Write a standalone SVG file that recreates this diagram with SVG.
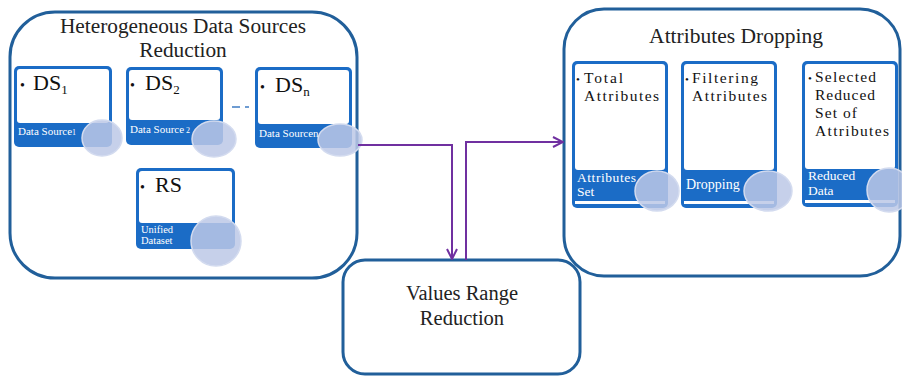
<svg xmlns="http://www.w3.org/2000/svg" width="902" height="376" viewBox="0 0 902 376">
<defs>
<style>
.big{fill:#fff;stroke:#215f9a;stroke-width:3}
.card{fill:#1b6cc6}
.inner{fill:#fff}
.circ{fill:#bcc8e6;fill-opacity:0.85;stroke:#d3dbef;stroke-width:1.5}
.title{font-family:"Liberation Serif","DejaVu Serif",serif;font-size:21.3px;fill:#222;text-anchor:middle}
.ds{font-family:"Liberation Serif","DejaVu Serif",serif;font-size:22px;fill:#111}
.sub{font-size:13px}
.item{font-family:"Liberation Serif","DejaVu Serif",serif;font-size:15.5px;fill:#111}
.band{font-family:"Liberation Serif","DejaVu Serif",serif;fill:#fff}
.conn{fill:none;stroke:#7030a0;stroke-width:2}
</style>
<marker id="arr" viewBox="0 0 12 12" refX="11" refY="6" markerWidth="12" markerHeight="12" markerUnits="userSpaceOnUse" orient="auto">
<path d="M1,1 L11,6 L1,11" fill="none" stroke="#7030a0" stroke-width="2"/>
</marker>
</defs>
<rect width="902" height="376" fill="#fff"/>

<g id="hetero">
<rect class="big" x="10" y="12" width="347" height="266" rx="45"/>
<text class="title" x="183" y="33">Heterogeneous Data Sources</text>
<text class="title" x="183" y="57">Reduction</text>
</g>

<g id="attrdrop">
<rect class="big" x="564" y="9" width="336" height="267" rx="40"/>
<text class="title" x="736" y="43" style="font-size:21.5px">Attributes Dropping</text>
</g>

<g id="values">
<rect class="big" x="343" y="260" width="237" height="114" rx="22"/>
<text class="title" x="462" y="300" style="font-size:20.5px">Values Range</text>
<text class="title" x="462" y="325" style="font-size:20.5px">Reduction</text>
</g>

<g id="ds1">
<rect class="card" x="14" y="66" width="98" height="81" rx="5"/>
<rect class="inner" x="17" y="69" width="92" height="54" rx="3"/>
<text class="ds" x="20" y="90"><tspan style="font-size:14px">•</tspan><tspan x="33">DS</tspan><tspan class="sub" dy="4">1</tspan></text>
<text class="band" x="18" y="135" style="font-size:11px">Data Source<tspan style="font-size:8px">1</tspan></text>
<ellipse class="circ" cx="102" cy="138" rx="20" ry="18"/>
</g>

<g id="ds2">
<rect class="card" x="126" y="67" width="97" height="78" rx="5"/>
<rect class="inner" x="129" y="70" width="91" height="50" rx="3"/>
<text class="ds" x="130" y="90"><tspan style="font-size:14px">•</tspan><tspan x="145">DS</tspan><tspan class="sub" dy="4">2</tspan></text>
<text class="band" x="130" y="133" style="font-size:11px">Data Source<tspan style="font-size:8px"> 2</tspan></text>
<ellipse class="circ" cx="214" cy="139" rx="22" ry="18"/>
</g>

<g id="dsn">
<rect class="card" x="255" y="67" width="97" height="81" rx="5"/>
<rect class="inner" x="258" y="70" width="91" height="54" rx="3"/>
<text class="ds" x="260" y="92"><tspan style="font-size:14px">•</tspan><tspan x="275">DS</tspan><tspan class="sub" dy="4">n</tspan></text>
<text class="band" x="259" y="137" style="font-size:11px">Data Sourcen</text>
<ellipse class="circ" cx="340" cy="140" rx="22" ry="16"/>
</g>

<g id="rs">
<rect class="card" x="136" y="168" width="99" height="81" rx="5"/>
<rect class="inner" x="139" y="171" width="93" height="52" rx="3"/>
<text class="ds" x="140" y="192"><tspan style="font-size:14px">•</tspan><tspan x="155">RS</tspan></text>
<text class="band" x="141" y="233" style="font-size:10.5px">Unified</text>
<text class="band" x="141" y="244" style="font-size:10.5px">Dataset</text>
<ellipse class="circ" cx="216" cy="241" rx="25" ry="25"/>
</g>

<g id="total">
<rect class="card" x="572" y="61" width="96" height="147" rx="5"/>
<rect class="inner" x="575" y="64" width="90" height="106" rx="3"/>
<rect class="inner" x="575" y="201" width="90" height="3"/>
<text class="item" x="576" y="83"><tspan style="font-size:11px">•</tspan><tspan x="584" textLength="39" lengthAdjust="spacing">Total</tspan></text>
<text class="item" x="584" y="101" textLength="75" lengthAdjust="spacing">Attributes</text>
<text class="band" x="577" y="182" style="font-size:13.5px" textLength="59" lengthAdjust="spacing">Attributes</text>
<text class="band" x="577" y="196" style="font-size:13.5px">Set</text>
<ellipse class="circ" cx="657" cy="191" rx="22" ry="20"/>
</g>

<g id="filter">
<rect class="card" x="681" y="61" width="96" height="147" rx="5"/>
<rect class="inner" x="684" y="64" width="90" height="106" rx="3"/>
<rect class="inner" x="684" y="201" width="90" height="3"/>
<text class="item" x="685" y="83"><tspan style="font-size:11px">•</tspan><tspan x="692" textLength="66" lengthAdjust="spacing">Filtering</tspan></text>
<text class="item" x="692" y="101" textLength="75" lengthAdjust="spacing">Attributes</text>
<text class="band" x="686" y="189" style="font-size:14px">Dropping</text>
<ellipse class="circ" cx="768" cy="191" rx="24" ry="20"/>
</g>

<g id="selected">
<rect class="card" x="802" y="61" width="96" height="146" rx="5"/>
<rect class="inner" x="805" y="64" width="90" height="105" rx="3"/>
<rect class="inner" x="805" y="200" width="90" height="3"/>
<text class="item" x="808" y="82"><tspan style="font-size:11px">•</tspan><tspan x="815" textLength="61" lengthAdjust="spacing">Selected</tspan></text>
<text class="item" x="815" y="100" textLength="60" lengthAdjust="spacing">Reduced</text>
<text class="item" x="815" y="118" textLength="42" lengthAdjust="spacing">Set of</text>
<text class="item" x="815" y="136" textLength="74" lengthAdjust="spacing">Attributes</text>
<text class="band" x="808" y="180" style="font-size:13.5px">Reduced</text>
<text class="band" x="808" y="195" style="font-size:13.5px">Data</text>
<ellipse class="circ" cx="889" cy="190" rx="22" ry="22"/>
</g>

<g id="connectors">
<path d="M232,107 H252" fill="none" stroke="#3f7cc4" stroke-width="1.5" stroke-dasharray="8 5 4 5"/>
<path class="conn" d="M358,145 H452 V259" marker-end="url(#arr)"/>
<path class="conn" d="M466,260 V142 H563" marker-end="url(#arr)"/>
</g>
</svg>
